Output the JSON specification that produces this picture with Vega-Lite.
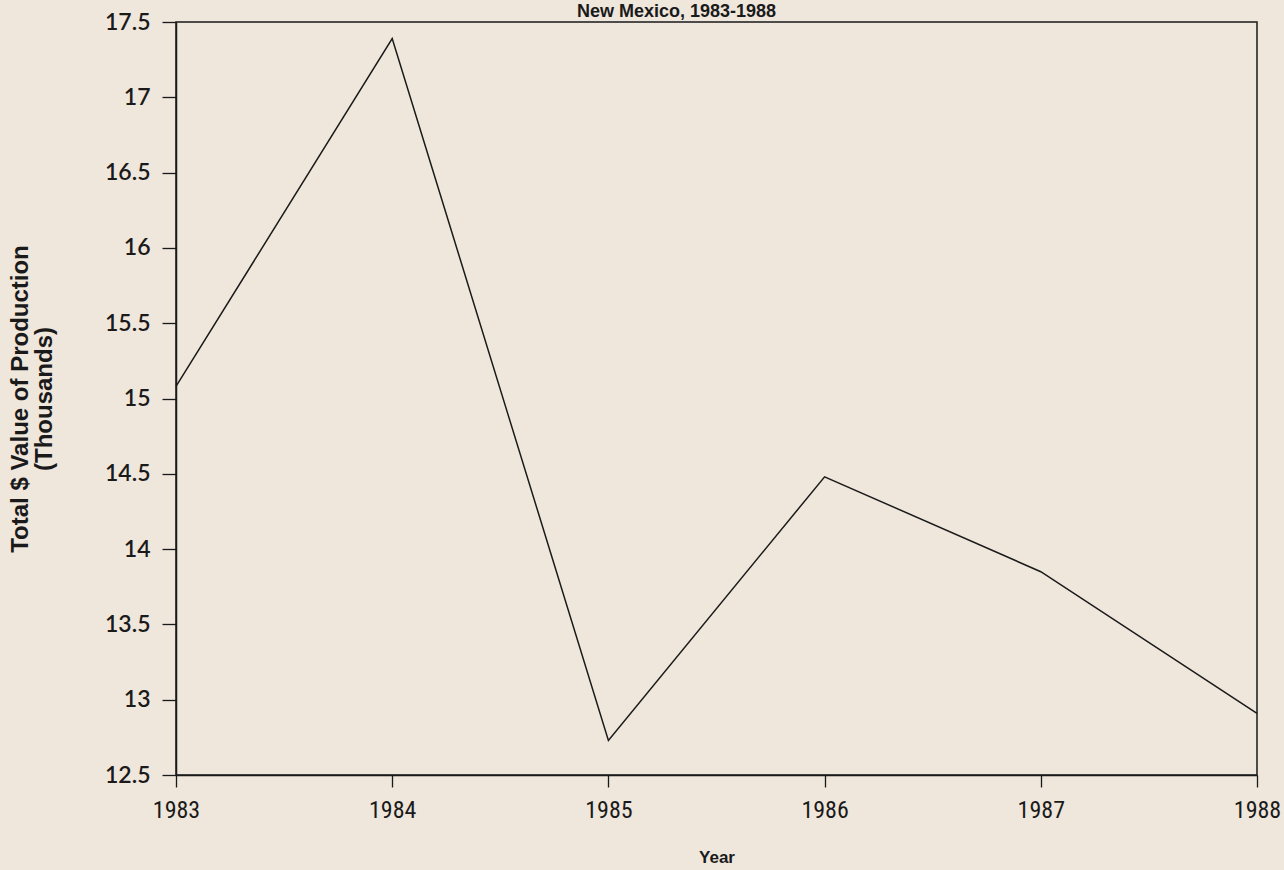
{
  "$schema": "https://vega.github.io/schema/vega-lite/v6.json",
  "autosize": {"type": "none"},
  "width": 1081,
  "height": 753,
  "padding": {"left": 176, "top": 22, "right": 27, "bottom": 95},
  "background": "#efe6dc",
  "title": {
    "text": "New Mexico, 1983-1988",
    "anchor": "middle",
    "orient": "top",
    "frame": "group",
    "dx": -40,
    "offset": -28,
    "baseline": "bottom",
    "font": "Liberation Sans",
    "fontSize": 18,
    "fontWeight": "bold",
    "color": "#1a1a1a"
  },
  "config": {
    "view": {"stroke": "#1a1a1a", "strokeWidth": 1.5},
    "axis": {
      "domainColor": "#1a1a1a",
      "domainWidth": 1.5,
      "tickColor": "#1a1a1a",
      "tickWidth": 1.3,
      "labelColor": "#1a1a1a",
      "titleColor": "#1a1a1a",
      "grid": false
    }
  },
  "data": {
    "values": [
      {"Year": 1983, "Value": 15.08},
      {"Year": 1984, "Value": 17.39},
      {"Year": 1985, "Value": 12.73},
      {"Year": 1986, "Value": 14.48},
      {"Year": 1987, "Value": 13.85},
      {"Year": 1988, "Value": 12.91}
    ]
  },
  "mark": {"type": "line", "color": "#1a1a1a", "strokeWidth": 1.5},
  "encoding": {
    "x": {
      "field": "Year",
      "type": "quantitative",
      "scale": {"domain": [1983, 1988], "nice": false, "zero": false},
      "axis": {
        "values": [1983, 1984, 1985, 1986, 1987, 1988],
        "format": "d",
        "title": "Year",
        "tickSize": 12,
        "labelPadding": 11,
        "labelFont": "Roboto Condensed, DejaVu Sans Condensed, Liberation Sans Narrow, Roboto",
        "labelFontSize": 24,
        "labelFlush": false,
        "titleFont": "Liberation Sans",
        "titleFontSize": 17,
        "titleFontWeight": "bold",
        "titlePadding": 27
      }
    },
    "y": {
      "field": "Value",
      "type": "quantitative",
      "scale": {"domain": [12.5, 17.5], "nice": false, "zero": false},
      "axis": {
        "values": [12.5, 13, 13.5, 14, 14.5, 15, 15.5, 16, 16.5, 17, 17.5],
        "format": "~g",
        "title": ["Total $ Value of Production", "(Thousands)"],
        "tickSize": 14,
        "labelPadding": 12,
        "labelFont": "Lato",
        "labelFontSize": 23,
        "labelFontWeight": 600,
        "labelFlush": false,
        "titleFont": "Liberation Sans",
        "titleFontSize": 24,
        "titleFontWeight": "bold",
        "titleLineHeight": 24,
        "titlePadding": 48
      }
    }
  }
}
